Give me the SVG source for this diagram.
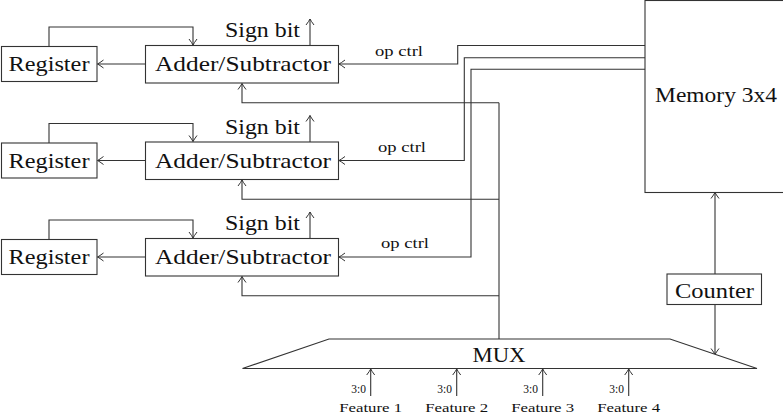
<svg xmlns="http://www.w3.org/2000/svg" width="783" height="417" viewBox="0 0 783 417">
<defs>
<marker id="ar" viewBox="-8 -5 10 10" markerWidth="10" markerHeight="10" refX="0" refY="0" orient="auto" markerUnits="userSpaceOnUse">
<path d="M-6,-4 Q-2,-1 0,0 Q-2,1 -6,4" fill="none" stroke="#333" stroke-width="1"/>
</marker>
<style>
.b{fill:#fff;stroke:#333;stroke-width:1.1}
.l{fill:none;stroke:#333;stroke-width:1.1}
.a{fill:none;stroke:#333;stroke-width:1.1;marker-end:url(#ar)}
.t{font-size:22px}
.s{font-size:14.5px}
.f{font-size:13.5px}
.x{font-size:11.5px}
</style>
</defs>
<rect width="783" height="417" fill="#fff"/>
<g id="connectors">
<path class="a" d="M49,46.5 V27 H193 V45"/>
<path class="a" d="M310,45.5 V19"/>
<path class="a" d="M145.5,64 H97.5"/>
<path class="a" d="M645,45.5 H457.7 V64 H339"/>
<path class="a" d="M499,102.7 H242 V83.5"/>
<path class="a" d="M49,143 V123.5 H193 V141.5"/>
<path class="a" d="M310,142 V115.5"/>
<path class="a" d="M145.5,160.5 H97.5"/>
<path class="a" d="M645,57.7 H464.3 V160.5 H339"/>
<path class="a" d="M499,199.2 H242 V180"/>
<path class="a" d="M49,239.5 V220 H193 V238"/>
<path class="a" d="M310,238.5 V212"/>
<path class="a" d="M145.5,257 H97.5"/>
<path class="a" d="M645,69.3 H471 V257 H339"/>
<path class="a" d="M499,295.7 H242 V276.5"/>
<path class="l" d="M499,102.7 V339"/>
<path class="a" d="M715,274 V192.5"/>
<path class="a" d="M715,304.5 V354.5"/>
<path class="a" d="M370.7,396 V369"/>
<path class="a" d="M456.7,396 V369"/>
<path class="a" d="M542.7,396 V369"/>
<path class="a" d="M628.7,396 V369"/>
</g>
<g font-family="Liberation Serif, serif" fill="#111">
<g id="register1"><rect class="b" x="1.5" y="46.5" width="95.5" height="35"/><text class="t" x="49" y="71" text-anchor="middle" textLength="81" lengthAdjust="spacingAndGlyphs">Register</text></g>
<g id="adder1"><rect class="b" x="145.5" y="45.5" width="193" height="37.5"/><text class="t" x="243" y="71" text-anchor="middle" textLength="176" lengthAdjust="spacingAndGlyphs">Adder/Subtractor</text></g>
<g id="sign1"><text class="t" x="262.5" y="37" text-anchor="middle" textLength="75" lengthAdjust="spacingAndGlyphs">Sign bit</text></g>
<g id="opctrl1"><text class="s" x="399" y="55.5" text-anchor="middle" textLength="48" lengthAdjust="spacingAndGlyphs">op ctrl</text></g>
<g id="register2"><rect class="b" x="1.5" y="143" width="95.5" height="35"/><text class="t" x="49" y="167.5" text-anchor="middle" textLength="81" lengthAdjust="spacingAndGlyphs">Register</text></g>
<g id="adder2"><rect class="b" x="145.5" y="142" width="193" height="37.5"/><text class="t" x="243" y="167.5" text-anchor="middle" textLength="176" lengthAdjust="spacingAndGlyphs">Adder/Subtractor</text></g>
<g id="sign2"><text class="t" x="262.5" y="133.5" text-anchor="middle" textLength="75" lengthAdjust="spacingAndGlyphs">Sign bit</text></g>
<g id="opctrl2"><text class="s" x="402" y="151.5" text-anchor="middle" textLength="48" lengthAdjust="spacingAndGlyphs">op ctrl</text></g>
<g id="register3"><rect class="b" x="1.5" y="239.5" width="95.5" height="35"/><text class="t" x="49" y="264" text-anchor="middle" textLength="81" lengthAdjust="spacingAndGlyphs">Register</text></g>
<g id="adder3"><rect class="b" x="145.5" y="238.5" width="193" height="37.5"/><text class="t" x="243" y="264" text-anchor="middle" textLength="176" lengthAdjust="spacingAndGlyphs">Adder/Subtractor</text></g>
<g id="sign3"><text class="t" x="262.5" y="230" text-anchor="middle" textLength="75" lengthAdjust="spacingAndGlyphs">Sign bit</text></g>
<g id="opctrl3"><text class="s" x="405" y="248" text-anchor="middle" textLength="48" lengthAdjust="spacingAndGlyphs">op ctrl</text></g>
<g id="memory"><rect class="b" x="645" y="0.5" width="145" height="192"/><text class="t" x="716" y="102" text-anchor="middle" textLength="122" lengthAdjust="spacingAndGlyphs">Memory 3x4</text></g>
<g id="counter"><rect class="b" x="667" y="274" width="94.5" height="30.5"/><text class="t" x="714.5" y="298" text-anchor="middle" textLength="79" lengthAdjust="spacingAndGlyphs">Counter</text></g>
<g id="mux"><path class="b" d="M329,339 H670 L757,368.5 H242.5 Z"/><text class="t" x="499" y="362" text-anchor="middle" textLength="53" lengthAdjust="spacingAndGlyphs">MUX</text></g>
<g id="feature1"><text class="x" x="366" y="393" text-anchor="end">3:0</text><text class="f" x="370.7" y="412" text-anchor="middle" textLength="63" lengthAdjust="spacingAndGlyphs">Feature 1</text></g>
<g id="feature2"><text class="x" x="452" y="393" text-anchor="end">3:0</text><text class="f" x="456.7" y="412" text-anchor="middle" textLength="63" lengthAdjust="spacingAndGlyphs">Feature 2</text></g>
<g id="feature3"><text class="x" x="538" y="393" text-anchor="end">3:0</text><text class="f" x="542.7" y="412" text-anchor="middle" textLength="63" lengthAdjust="spacingAndGlyphs">Feature 3</text></g>
<g id="feature4"><text class="x" x="624" y="393" text-anchor="end">3:0</text><text class="f" x="628.7" y="412" text-anchor="middle" textLength="63" lengthAdjust="spacingAndGlyphs">Feature 4</text></g>
</g>
</svg>
